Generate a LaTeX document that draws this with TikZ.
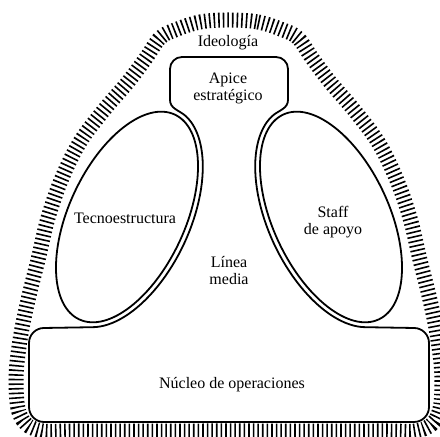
\documentclass[tikz,border=0pt]{standalone}
\usepackage{fontspec}
\setmainfont{Liberation Serif}
\usepackage{tikz}
\usetikzlibrary{calc}

\begin{document}
\begin{tikzpicture}[
    x=0.5pt, y=0.5pt,
    every node/.style={align=center, font=\fontsize{8}{8.5}\selectfont, inner sep=0pt},
    part/.style={line width=0.9pt, line join=round},
    band/.style={line width=7.5pt, dash pattern=on 0.8pt off 1.5pt}
]
\useasboundingbox (0,0) rectangle (440,437);
% ideologia: hatched band round the whole
\draw[band] plot[smooth cycle, tension=0.6] coordinates {
    (229,417) (258,415) (283,407) (298,399) (312,379) (330,355)
    (354,327) (378,295) (396,259) (410,219) (420,177) (430,137)
    (438,97) (442,57) (438,22) (420,7) (378,6) (229,6)
    (80,6) (38,7) (20,22) (16,57) (20,97) (28,137) (38,177)
    (48,219) (62,259) (80,295) (104,327) (128,355) (146,379)
    (160,399) (175,407) (200,415)};
% apex, middle line and operating core in one outline
\draw[part] (170,337) to[out=-90, in=137] (186,320.7)
    -- plot[domain=-10:-166, samples=50]
       ({127 + 118*cos(\x)*cos(65) - 63*sin(\x)*sin(65)},
        {220 + 118*cos(\x)*sin(65) + 63*sin(\x)*cos(65)})
    -- (44,109) arc[start angle=90, end angle=180, radius=15]
    -- (29,30) arc[start angle=180, end angle=270, radius=15]
    -- (414,15) arc[start angle=270, end angle=360, radius=15]
    -- (429,94) arc[start angle=0, end angle=90, radius=15]
    -- (365.6,109.8)
    -- plot[domain=166:10, samples=50]
       ({331 + 118*cos(\x)*cos(115) - 63*sin(\x)*sin(115)},
        {220 + 118*cos(\x)*sin(115) + 63*sin(\x)*cos(115)})
    to[out=43, in=-90] (288,337)
    -- (288,368) arc[start angle=0, end angle=90, radius=12]
    -- (182,380) arc[start angle=90, end angle=180, radius=12]
    -- cycle;
% technostructure and support staff
\draw[part, rotate around={65:(127,220)}] (127,220) ellipse[x radius=113, y radius=58];
\draw[part, rotate around={115:(331,220)}] (331,220) ellipse[x radius=113, y radius=58];
% labels
\node (ideo) at (228,394) {Ideología};
\node (apex) at (228,348.5) {Apice\\estratégico};
\node (tecno) at (125,219) {Tecnoestructura};
\node (staff) at (333,214.5) {Staff\\de apoyo};
\node (linea) at (229,166.5) {Línea\\media};
\node (nucleo) at (232,52) {Núcleo de operaciones};
\end{tikzpicture}
\end{document}
